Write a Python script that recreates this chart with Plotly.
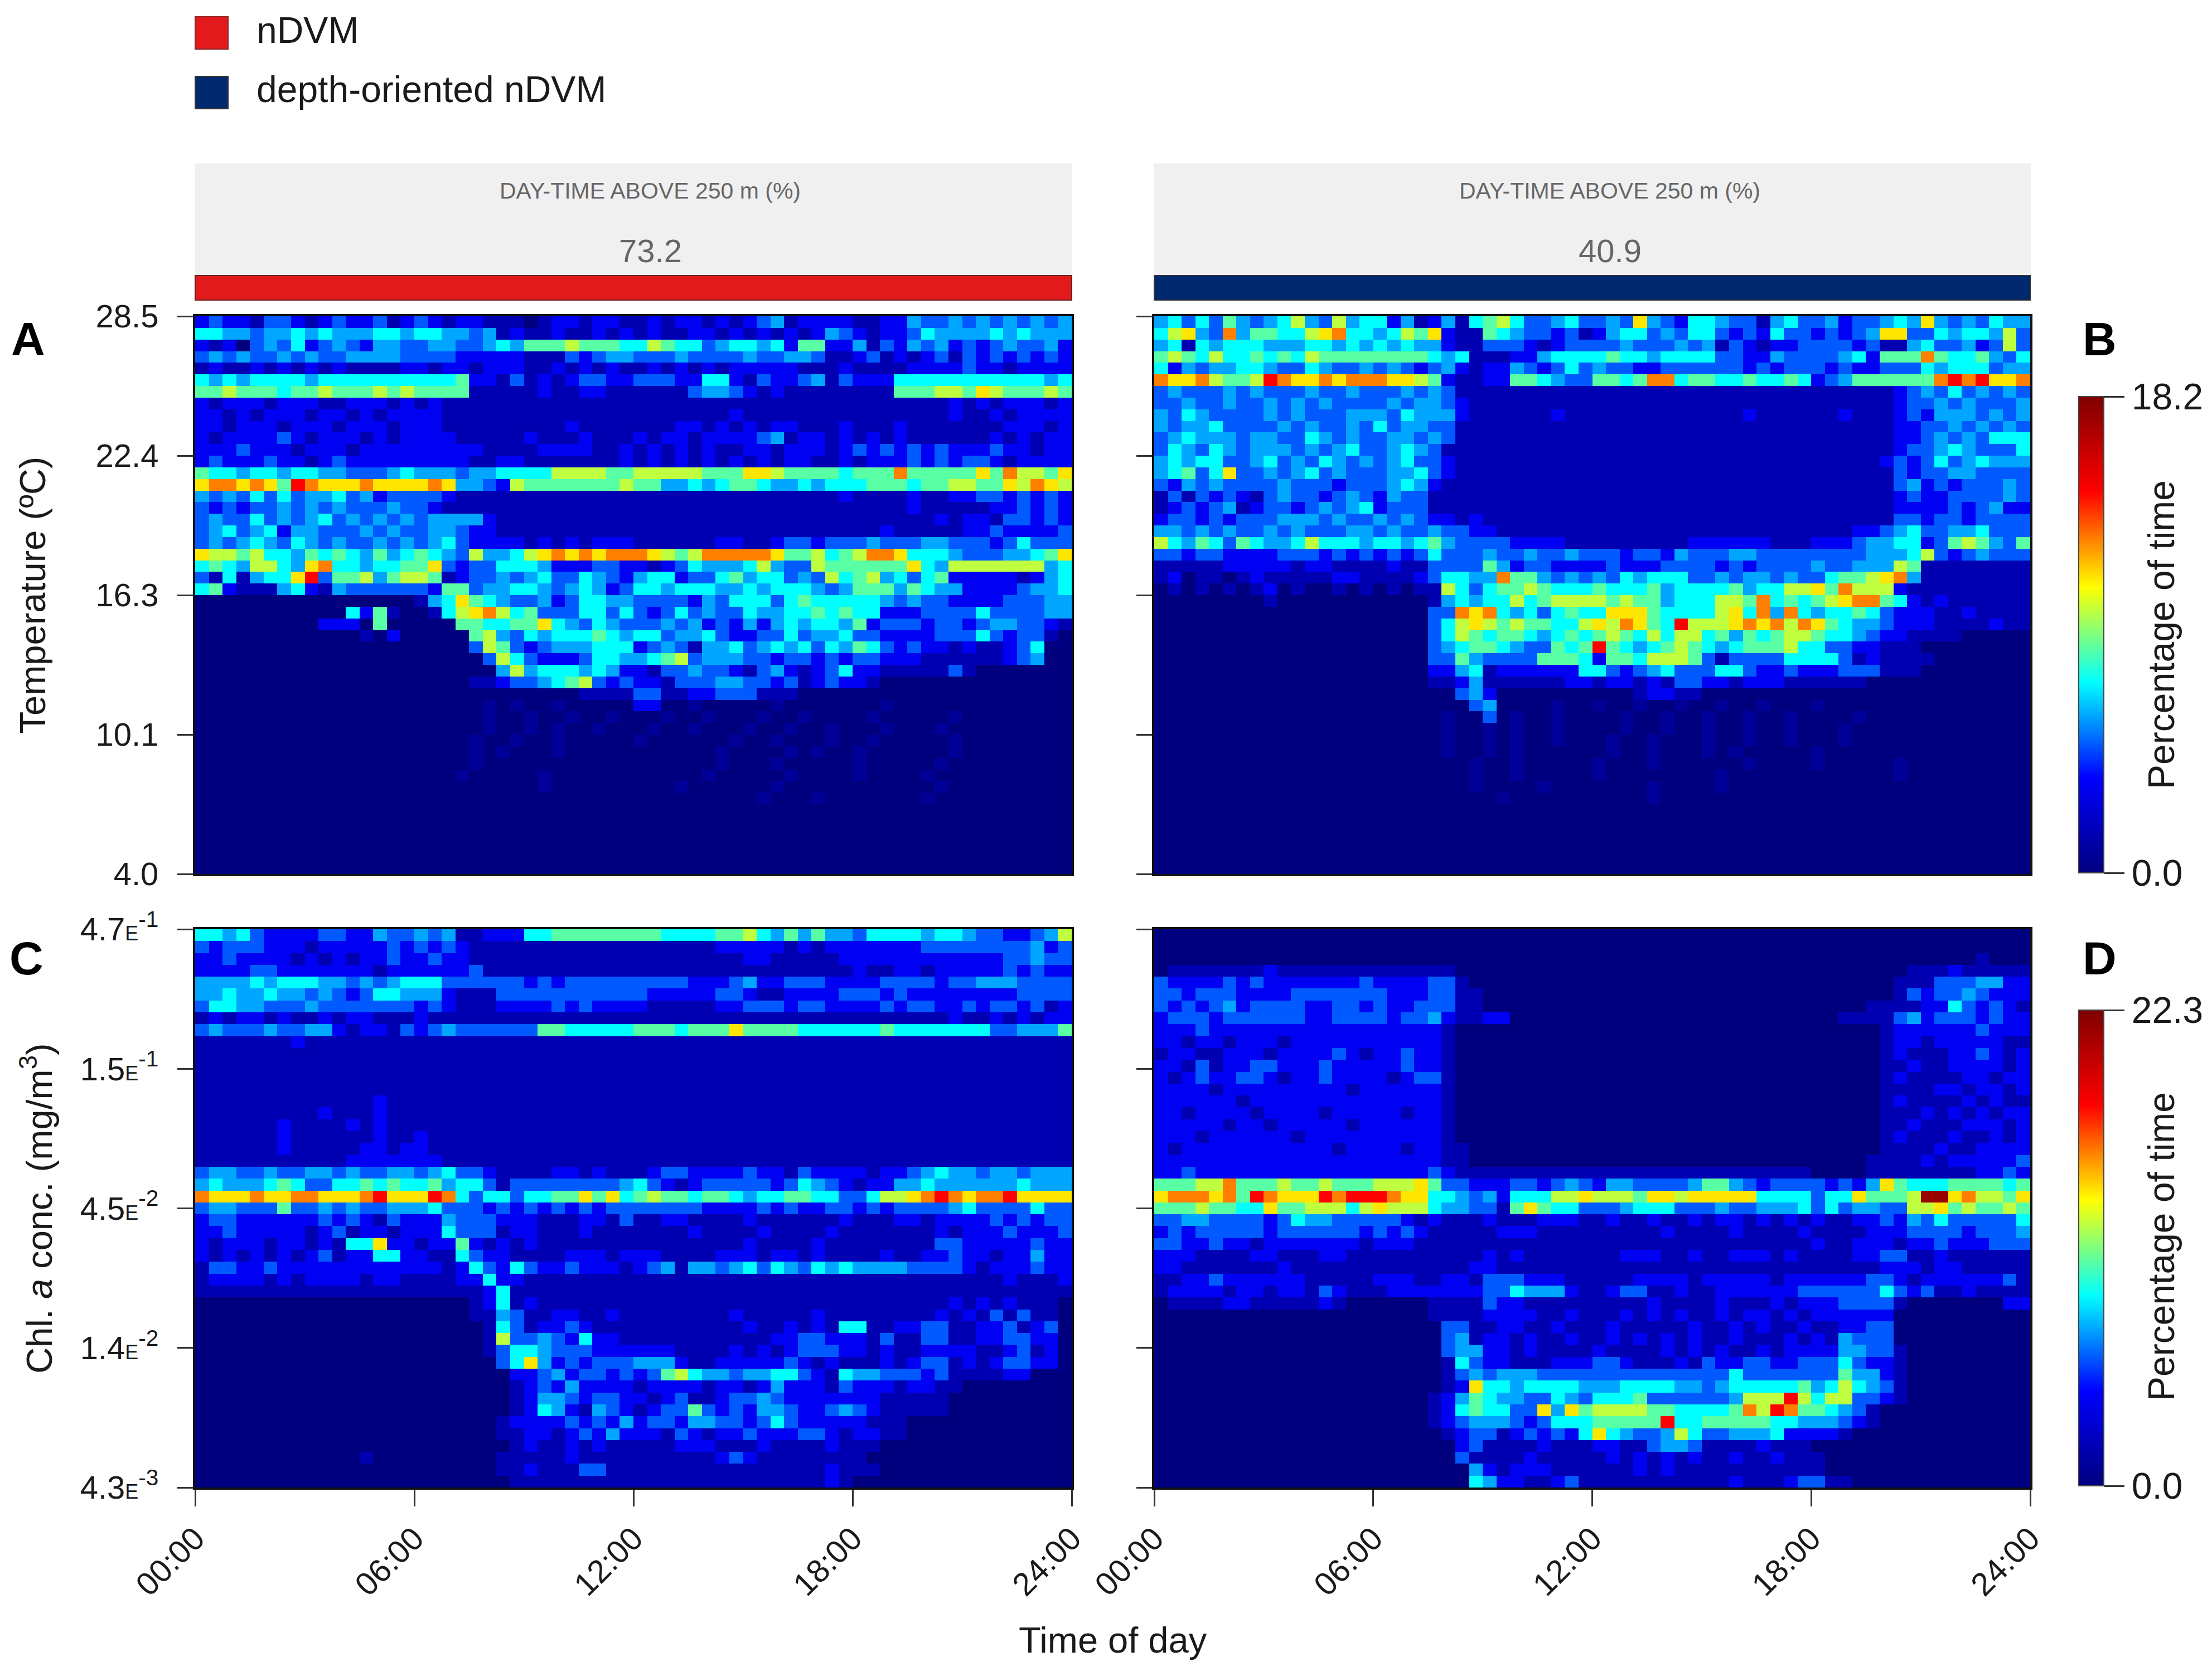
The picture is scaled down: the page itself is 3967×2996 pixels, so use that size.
import numpy as np
import plotly.graph_objects as go

W, H = 3967, 2996
FONT = "Liberation Sans, Arial, sans-serif"
HOURS = [0, 6, 12, 18, 24]
HOUR_LABELS = ["00:00", "06:00", "12:00", "18:00", "24:00"]
TEMP_TICKS = ["28.5", "22.4", "16.3", "10.1", "4.0"]
CHL_MANT = ["4.7", "1.5", "4.5", "1.4", "4.3"]
CHL_EXP = ["-1", "-1", "-2", "-2", "-3"]
TEMP_RANGE = (4.0, 28.5)
CHL_RANGE = (0.0043, 0.47)
TEMP_MAX = 18.2
CHL_MAX = 22.3
DAYTIME = ["73.2", "40.9"]
GROUPS = ["nDVM", "depth-oriented nDVM"]

# Colour level, as a share of each colour bar's maximum (c = faint streak)
LEVELS = [0, .08, .18, .27, .33, .40, .47, .55, .62, .70, .80, .96, .04]

# One row per depth bin (top to bottom), 16 time bins per 6 hours; hex digit = level
TEMP_NDVM = [
"2322133212322312 3212211101221221 1212212123412222 1122433434343434",
"5544344545444554 5544341211211212 1211221212121243 2122354444545444",
"2120343523432443 3443345466676665 5765534554526622 4132434232343342",
"3434334343344443 3332222211132344 3334333343344311 2312123132323232",
"1211212121211112 2122122211212121 1212121222221112 1111222232212222",
"5454555545555555 5556221312123322 3332255213223413 2225555555555545",
"6676665667666767 6666111112112211 1111344321211111 1116667768766676",
"2122212221122212 1211111111111111 1111111111111111 1111111212122212",
"2212122212212122 2211111111111111 1111111211111111 1111111211212222",
"2212221222122212 2211111111121111 1112212121221112 1112111111122212",
"2122223212221212 2221111121112111 2122122223412212 1212111111212122",
"2223222122212222 2222211112222112 1212121122122212 3232323222322122",
"2322232212322222 2222112211111112 1212121212122112 1222323233212222",
"6554554554433345 4443445555777766 7777766688766665 6669666668697768",
"8998986a98889888 8984432766666667 6644545665445455 5666566776687987",
"4343535344534233 3321111111111111 1111111111111112 1111211223323232",
"3232334343433343 3211111111111111 1111111111111111 1111211111223232",
"3433534345343434 3444421111111111 1111111111111111 1111112122133232",
"3453452443334343 3443221111111111 1111111111111111 1121111122322223",
"3434543543433434 3453222212121222 1111112211233233 3433344333235333",
"8776755465654645 6543744578989899 9876799999866756 7998555433344568",
"5654775489554556 6832335554222332 2123544457433766 6666854777777745",
"31514558a3667467 7612334345335432 4552335645534375 6745356222221245",
"5621114521433333 3266344554345423 5545554454555434 6664654422223445",
"0000000000000000 1458654334235544 3333243555356555 5543433222233344",
"0000000000052610 0157897563335535 3235343354455656 5522233335333344",
"0000000002220600 0006655668543543 3343423242454554 6233323323443321",
"0000000000001020 0000674354555654 5534453223353445 3322223335323310",
"0000000000000000 0000376323444555 2343144534545354 6532322121123500",
"0000000000000000 0000037532223554 4567344433233232 3322211111123400",
"0000000000000000 0000004745554542 2133433213421235 2211111310000000",
"0000000000000000 0000112334567323 2213334433231232 2100000000000000",
"0000000000000000 0000000000001111 3311223331110000 0000000000000000",
"0000000000000000 00000c0c00c00000 2200c00000c00000 00c0000000000000",
"0000000000000000 00000c00c00c00c0 00c00c000c00c000 0c00000c00000000",
"0000000000000000 00000c00c0c00c00 0c00c000c00c00c0 00c000c000000000",
"0000000000000000 0000c00c00c00000 c000000c00c000c0 0c00000c00000000",
"0000000000000000 0000c0c000c00000 000000c0000c0c00 c000000c00000000",
"0000000000000000 0000c00000000000 000000c000c00000 c00000c000000000",
"0000000000000000 000c00000c000000 00000c00000c0000 c0000c0000000000",
"0000000000000000 000000000c000000 000c000000c00000 000000c000000000",
"0000000000000000 0000000000000000 000000000c000c00 00000c0000000000",
]

TEMP_DEPTH = [
"4535364345743745 5241241567533453 3438432554331453 3423345484343544",
"5784394665578955 4576821165433231 2455343553232533 2323488335455473",
"4515455544455454 5454421133321233 3343334341321223 3332311453342373",
"6765755656576666 6666545111224555 5655455553322433 3345266696556435",
"5243445543354334 3432342122432353 4332233333323233 3232233354555344",
"98897667a9889899 9887621122665433 6656995665565565 2346666669a9a889",
"3433343433343343 3343431111111111 1111111111111111 1111112343534343",
"3343343343434333 3434432111111111 1111111111111111 1111112334343334",
"4354333343433344 4354442111111211 1111111111121111 1121112324443434",
"4344533334343343 5344331111111111 1111111111111111 1111112233434343",
"3454443443354343 3443431111111111 1111111111111111 1111112234343555",
"3543543444343453 3454311111111111 1111111111111111 1111112334543335",
"4545533453435434 3453321111111111 1111111111111111 1111123235345444",
"4563583343453433 3445321111111111 1111111111111111 1111113233443333",
"3243433334333233 3454211111111111 1111111111111111 1111113423233343",
"1313232134332343 2433111111111111 1111111111111111 1111112322333343",
"1232341233234345 2333111111111111 1111111111111111 1111112222323422",
"2332323334443433 4343221211111111 1111111111111111 1111113323323333",
"4434343343433344 3433433221111111 1111111111111111 1112234533445333",
"7546536544575554 5545643333222211 1111111222222111 2223445523676436",
"3323322223332323 2323533343343343 3323324333443333 3333444573234333",
"1111122222122111 1211333364233222 2322233332323333 4334447611111111",
"1201101211111221 1112355449664343 4354555334344343 3566789411111111",
"0101010120100101 0101175356676555 6555645555645577 8697772111111111",
"0000000010000000 0000145455756777 7676645557769565 6789965212111111",
"0000000000000000 0000339895453565 5888655557859495 4556532221121111",
"0000000000000000 0000357876766557 879865a777898979 8654432221111211",
"0000000000000000 0000357656654565 6765757756465677 6554322111100000",
"0000000000000000 0000345665433656 a654567654566675 5332211100000000",
"0000000000000000 0000336433336665 2665777631333355 5531211110000000",
"0000000000000000 0000224512222225 5323453335532232 2233311100000000",
"0000000000000000 0000112411111122 1221213322122211 1111000000000000",
"0000000000000000 0000003420000000 0001221100000000 0000000000000000",
"0000000000000000 0000000340000c00 c00c00c00c00c000 c000000000000000",
"0000000000000000 00000c0030c00c00 00c00c00c00c00c0 000c000000000000",
"0000000000000000 00000c00c0c00c00 00c00c00c00c00c0 00c0000000000000",
"0000000000000000 00000c00c0c00c00 0c00c000c00c00c0 00c0000000000000",
"0000000000000000 00000c00c0c00000 0c00c000c0c00000 c000000000000000",
"0000000000000000 0000000c00c00000 c000c000000c0000 c00000c000000000",
"0000000000000000 0000000c00c00000 c00000000c000000 000000c000000000",
"0000000000000000 0000000c0000c000 0000c0000c000000 0000000000000000",
"0000000000000000 000000000c000000 0000c00000000000 0000000000000000",
]

CHL_NDVM = [
"5545322223322433 4341122255666666 6655556675464644 3555545543322347",
"3233322212222232 3232111111111111 1111112222212122 2222233333333423",
"2232222121212232 2322111111111111 1111111122111112 2222222222233433",
"2222332222222122 2222311111111111 1111111111111111 2112212222232322",
"4444545554434345 5533333323233333 3333222342233322 2233332334443333",
"4454454434323554 4421113333333333 3222223321122223 3323222222223333",
"3554433343333333 2321112222323222 2111112233323322 2232332232332312",
"1212212112122111 2111111111111111 1111111111111111 1111111211212122",
"3433343344212213 2343333336655555 6665666866665555 5565555555334446",
"1111111211111111 1111111111111111 1111111111111111 1111111111111111",
"1111111111111111 1111111111111111 1111111111111111 1111111111111111",
"1111111111111111 1111111111111111 1111111111111111 1111111111111111",
"1111111111111111 1111111111111111 1111111111111111 1111111111111111",
"1111111111111111 1111111111111111 1111111111111111 1111111111111111",
"1111111111111211 1111111111111111 1111111111111111 1111111111111111",
"1111111112111211 1111111111111111 1111111111111111 1111111111111111",
"1111112111121211 1111111111111111 1111111111111111 1111111111111111",
"1111112111111211 2111111111111111 1111111111111111 1111111111111111",
"1111112111112212 2111111111111111 1111111111111111 1111111111111111",
"1111111111122222 2211111111111111 1111111111111111 1111111111111111",
"3443343344343344 3453321111221211 1233222232213222 2122345443443444",
"4544456533556565 5645531333333334 5321233333235432 1224454444445444",
"9888988998889a88 8a95355355668685 6766566545566553 3577 89a9899a8888",
"3443336334343344 4533323232323233 3333322223232233 2323333453333533",
"2332222223232132 2243332221112213 1122111121111112 1112212222323233",
"2232222212312212 2253331221112111 1111211112111121 1111112122232223",
"2122212212155822 1226212121111111 1111111121111211 1111113322222322",
"2121212123122552 2115322111122212 2211112221221211 1121122322122422",
"1332232222222222 2212532532232221 2341443453543545 4444333321222322",
"1222212122221221 1112252211111111 1111111111111111 1111111111121112",
"1111111111111111 1111125111111111 1111111111111111 1111111111111111",
"0000000000000000 0000125121111111 1111111111111111 1111111212121110",
"0000000000000000 0000114311221121 1111111211111211 1111112121313110",
"0000000000000000 0000015312232111 1111111121121215 5112233112231230",
"0000000000000000 0000017334325221 1111111111223322 2131133112233220",
"0000000000000000 0000013554333222 2221111212123332 2121122221123120",
"0000000000000000 0000003584232333 4442112222232121 1121233121233220",
"0000000000000000 0000000223423323 2367544344553215 4433323111122000",
"0000000000000000 0000000123242222 1222212212422213 2221221100000000",
"0000000000000000 0000000124432332 2123112334322222 2211111000000000",
"0000000000000000 0000000125421432 1233632324432234 3211111000000000",
"0000000000000000 0000001222232324 2332443323532222 2111000000000000",
"0000000000000000 0000001122123242 2213212232223321 2211000000000000",
"0000000000000000 0000000121121211 1112221112111121 1100000000000000",
"0000000000001000 0000001111121111 1111112321111111 1000000000000000",
"0000000000000000 0000001121113311 1111111111111121 1100000000000000",
"0000000000000000 0000000111111111 1111111111111121 0000000000000000",
]

CHL_DEPTH = [
"0000000000000000 0000000000000000 0000000000000000 0000000000000000",
"0000000000000000 0000000000000000 0000000000000000 0000000000000000",
"0000000000000000 0000000000000000 0000000000000000 0000000000001000",
"0111111121111111 1111110000000000 0000000000000000 0000000111211111",
"3222232322222223 2222331000000000 0000000000000000 0000001113334422",
"3323332222333333 3222331100000000 0000000000000000 0000001323343222",
"3232342333322332 3223331100000000 0000000000000000 0000111122532321",
"2333233333322333 3233421122000000 0000000000000000 0011113423332322",
"2223222222222222 2222210000000000 0000000000000000 0000012222223222",
"2212212221222222 2222210000000000 0000000000000000 0000012212222211",
"1221122212222321 2232210000000000 0000000000000000 0000012111223212",
"2213122332223222 2232210000000000 0000000000000000 0000011211222212",
"2123223321223222 2123310000000000 0000000000000000 0000012111122122",
"2222122222222212 2222210000000000 0000000000000000 0000011112212212",
"2222221222222222 2222210000000000 0000000000000000 0000012111121211",
"2212222122221222 2212210000000000 0000000000000000 0000011121212122",
"2222212212222212 2222210000000000 0000000000000000 0000011211122212",
"2221222222122222 2222210000000000 0000000000000000 0000012111211212",
"2122222222222122 2212211000000000 0000000000000000 0000011112112222",
"2222222222222222 2222211000000000 0000000000000000 0000111121222223",
"2232222222222222 2222321111111111 1111111111111111 0000111111112232",
"6667796667667666 7778633222332343 2443333466432333 3232486555666656",
"8999896a9888a9aa a988554342555778 7776887888885555 35586667bb897768",
"6667665586677757 8777544331686553 3345553334334445 3534433778676676",
"3344333323544333 3321211121112221 1211211212212121 2112232435333335",
"2323333323333332 3232111112221111 1111121111211112 1111222333323334",
"3322322122222221 2221111111111111 1111111111111111 2112221223222333",
"2221111221112211 1111111121211111 1122211211222121 1112233112111111",
"2211111112111111 1111111221111111 1111111111111111 1111122212211111",
"1122322222211111 2221122133322211 1112222122222122 2222332122222231",
"1222212212213211 1222222233544421 1233112112222223 3333353231121111",
"0111122111112100 0000111132211111 1111211112111212 2233331000000022",
"0000000000000000 0000111122221121 1121212112122121 2222220000000000",
"0000000000000000 0000033112211211 1211111211212112 1122330000000000",
"0000000000000000 0000034122121121 1212121211211121 2143330000000000",
"0000000000000000 0000034422121111 2111121212112122 2244331000000000",
"0000000000000000 0000015322111222 3321112132233223 3353221000000000",
"0000000000000000 0000013434443333 3333333333533333 3364421000000000",
"0000000000000000 0000012855455554 4455554434555556 4575431000000000",
"0000000000000000 0000124654433543 55563333334777a7 5773321000000000",
"0000000000000000 0000125655338486 7777665555697a96 6543100000000000",
"0000000000000000 0000123444323555 66666a5566666554 4432100000000000",
"0000000000000000 0000012331232325 8543347533444522 2210000000000000",
"0000000000000000 0000002311112111 2211344311112111 0000000000000000",
"0000000000000000 0000003111121111 1212121211211211 1000000000000000",
"0000000000000000 0000000421222111 1112121111111111 1000000000000000",
"0000000000000000 0000000542211231 1111111111211123 3110000000000000",
]


def grid(rows, n_rows):
    out = np.zeros((n_rows, 64))
    for i, row in enumerate(rows):
        digits = row.replace(" ", "")[:64].ljust(64, "0")
        for j, ch in enumerate(digits):
            out[i, j] = LEVELS[int(ch, 16)]
    return out


def px(x):
    return x / W


def py(y):
    return 1 - y / H


COLORS = [[0, "#00007F"], [.2, "#0000FF"], [.3, "#0080FF"], [.4, "#00FFFF"],
          [.5, "#7FFF7F"], [.6, "#FFFF00"], [.7, "#FF8000"], [.8, "#FF0000"], [1, "#7F0000"]]

x_edges = np.linspace(0, 24, 65)
temp_edges = np.linspace(TEMP_RANGE[1], TEMP_RANGE[0], 49)
chl_edges = np.geomspace(CHL_RANGE[1], CHL_RANGE[0], 48)

fig = go.Figure()
panels = [(TEMP_NDVM, "x", "y", temp_edges, TEMP_MAX, "coloraxis"),
          (TEMP_DEPTH, "x2", "y2", temp_edges, TEMP_MAX, "coloraxis"),
          (CHL_NDVM, "x3", "y3", chl_edges, CHL_MAX, "coloraxis2"),
          (CHL_DEPTH, "x4", "y4", chl_edges, CHL_MAX, "coloraxis2")]
for rows, xa, ya, edges, zmax, ca in panels:
    z = grid(rows, len(edges) - 1) * zmax
    fig.add_trace(go.Heatmap(z=z, x=x_edges, y=edges, xaxis=xa, yaxis=ya, coloraxis=ca,
                             zsmooth=False, hoverongaps=False))

FRAME = dict(showline=True, mirror=True, linecolor="#111", linewidth=4, showgrid=False,
             zeroline=False, ticks="outside", tickcolor="#333", tickwidth=3, automargin=False,
             tickfont=dict(family=FONT, size=58, color="#1a1a1a"))
X_DOM = [[350, 1922], [2070, 3641]]
Y_DOM = [[567, 1567], [1666, 2667]]

temp_ticks = np.linspace(TEMP_RANGE[1], TEMP_RANGE[0], 5)
chl_ticks = np.geomspace(CHL_RANGE[1], CHL_RANGE[0], 5)
chl_text = [f'{m}<span style="font-size:36px">E</span><sup>{e}</sup>' for m, e in zip(CHL_MANT, CHL_EXP)]
TITLE_FONT = dict(family=FONT, size=65, color="#1a1a1a")

layout = dict(width=W, height=H, margin=dict(l=0, r=0, t=0, b=0, autoexpand=False), paper_bgcolor="white",
              plot_bgcolor="white", showlegend=False)
for k, (xd, yd) in enumerate([(X_DOM[0], Y_DOM[0]), (X_DOM[1], Y_DOM[0]), (X_DOM[0], Y_DOM[1]), (X_DOM[1], Y_DOM[1])]):
    s = "" if k == 0 else str(k + 1)
    bottom = k >= 2
    left = k % 2 == 0
    layout["xaxis" + s] = dict(FRAME, domain=[px(xd[0]), px(xd[1])], anchor="y" + s, range=[0, 24],
                               tickvals=HOURS if bottom else [], ticktext=HOUR_LABELS if bottom else [],
                               tickangle=-45, ticklen=30, showticklabels=bottom)
    ya = dict(FRAME, domain=[py(yd[1]), py(yd[0])], anchor="x" + s, ticklen=28, showticklabels=left,
              ticklabelstandoff=22)
    if bottom:
        ya.update(type="log", range=[np.log10(CHL_RANGE[0]), np.log10(CHL_RANGE[1])],
                  tickvals=chl_ticks, ticktext=chl_text)
        if left:
            ya["title"] = dict(text="Chl. <i>a</i> conc. (mg/m<sup>3</sup>)", font=TITLE_FONT, standoff=30)
    else:
        ya.update(range=list(TEMP_RANGE), tickvals=temp_ticks, ticktext=TEMP_TICKS)
        if left:
            ya["title"] = dict(text="Temperature (ºC)", font=TITLE_FONT, standoff=70)
    layout["yaxis" + s] = ya

CB = dict(thickness=45, thicknessmode="pixels", lenmode="fraction", x=px(3728), xanchor="left",
          yanchor="bottom", xpad=0, ypad=0, outlinecolor="#444", outlinewidth=2, ticks="outside",
          ticklen=36, tickcolor="#333", tickwidth=3, tickfont=dict(family=FONT, size=66, color="#1a1a1a"))
layout["coloraxis"] = dict(colorscale=COLORS, cmin=0, cmax=TEMP_MAX,
                           colorbar=dict(CB, y=py(1565), len=(1565 - 711) / H, tickvals=[0, TEMP_MAX],
                                         ticktext=["0.0", "18.2"]))
layout["coloraxis2"] = dict(colorscale=COLORS, cmin=0, cmax=CHL_MAX,
                            colorbar=dict(CB, y=py(2664), len=(2664 - 1811) / H, tickvals=[0, CHL_MAX],
                                          ticktext=["0.0", "22.3"]))


def rect(x0, y0, x1, y1, fill, line=None):
    return dict(type="rect", xref="paper", yref="paper", x0=px(x0), x1=px(x1), y0=py(y1), y1=py(y0),
                fillcolor=fill, line=dict(color=line or fill, width=2), layer="below")


RED, NAVY = "#E31A1C", "#00286E"
layout["shapes"] = [
    rect(350, 30, 409, 88, RED, "#8a2a2a"), rect(350, 137, 409, 195, NAVY, "#333"),
    rect(350, 294, 1922, 493, "#F0F0F0"), rect(2070, 294, 3641, 493, "#F0F0F0"),
    rect(350, 494, 1922, 538, RED, "#6a2020"), rect(2070, 494, 3641, 538, NAVY, "#333"),
]


def note(text, x, y, size, color="#1a1a1a", anchor="center", angle=0):
    return dict(text=text, x=px(x), y=py(y), xref="paper", yref="paper", xanchor=anchor, yanchor="middle",
                showarrow=False, textangle=angle, font=dict(family=FONT, size=size, color=color))


layout["annotations"] = [
    note(GROUPS[0], 458, 54, 66, anchor="left"), note(GROUPS[1], 458, 160, 66, anchor="left"),
    note("DAY-TIME ABOVE 250 m (%)", 1166, 342, 41, "#666"), note("DAY-TIME ABOVE 250 m (%)", 2887, 342, 41, "#666"),
    note(DAYTIME[0], 1166, 449, 58, "#666"), note(DAYTIME[1], 2887, 449, 58, "#666"),
    note("<b>A</b>", 50, 608, 84, "black"), note("<b>B</b>", 3765, 608, 84, "black"),
    note("<b>C</b>", 47, 1718, 84, "black"), note("<b>D</b>", 3765, 1718, 84, "black"),
    note("Percentage of time", 3876, 1138, 66, angle=-90), note("Percentage of time", 3876, 2235, 66, angle=-90),
    note("Time of day", 1996, 2940, 65),
]
fig.update_layout(**layout)
fig.write_html("out.html", config=dict(displayModeBar=False),
               post_script="document.body.style.margin='0';document.documentElement.style.overflow='hidden';")
